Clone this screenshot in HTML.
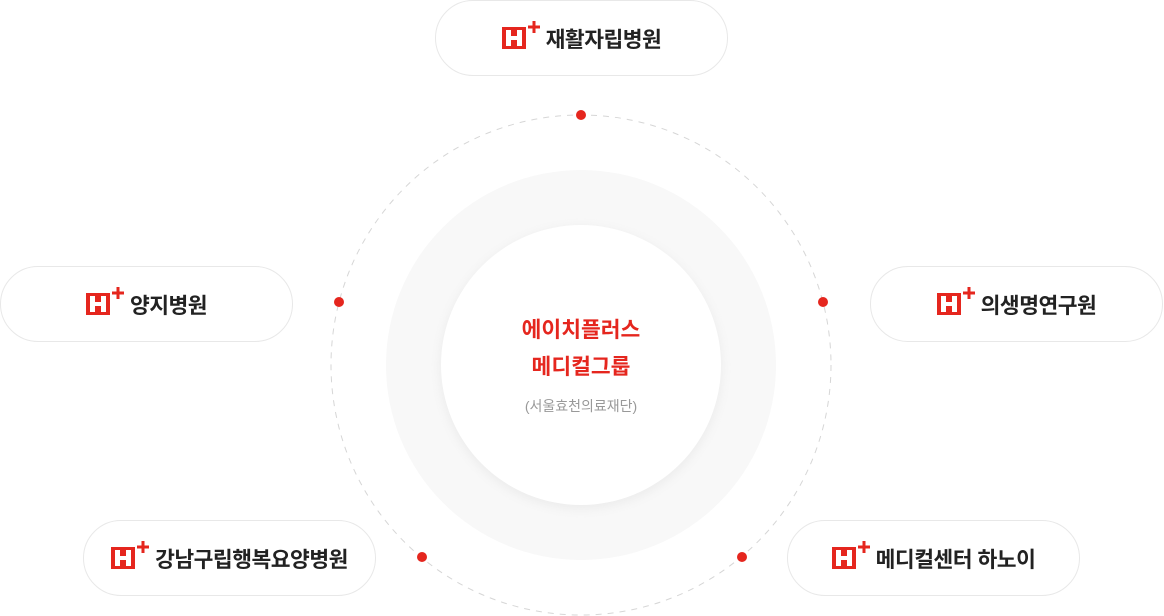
<!DOCTYPE html>
<html><head><meta charset="utf-8"><style>
body{margin:0;width:1164px;height:616px;position:relative;background:#fff;overflow:hidden;font-family:"Liberation Sans","Noto Sans CJK KR",sans-serif}
.pill{position:absolute;width:291px;height:74px;border:1px solid #e8e8e8;border-radius:38px;background:#fff;display:flex;align-items:center;justify-content:center;font-size:21.5px;font-weight:bold;color:#222;letter-spacing:-0.5px}
.pill svg{margin-right:4px;margin-top:-8px}
.dot{position:absolute;width:10px;height:10px;border-radius:50%;background:#e5261e;margin:-5px 0 0 -5px}
</style></head><body>
<svg width="1164" height="616" style="position:absolute;left:0;top:0">
<defs>
<filter id="s" x="-20%" y="-20%" width="140%" height="140%"><feGaussianBlur stdDeviation="5"/></filter></defs>
<circle cx="581" cy="365" r="250" fill="none" stroke="#d6d6d6" stroke-width="1" stroke-dasharray="6 6"/>
<circle cx="581" cy="365" r="195" fill="#f8f8f8"/>
<circle cx="581" cy="368" r="141" fill="#ececec" filter="url(#s)"/>
<circle cx="581" cy="365" r="140" fill="#fff"/>
<text x="581" y="337" text-anchor="middle" font-size="21.5" font-weight="bold" fill="#e5261e" font-family="Liberation Sans, Noto Sans CJK KR, sans-serif">에이치플러스</text>
<text x="581" y="374" text-anchor="middle" font-size="21.5" font-weight="bold" fill="#e5261e" font-family="Liberation Sans, Noto Sans CJK KR, sans-serif">메디컬그룹</text>
<text x="581" y="411" text-anchor="middle" font-size="14" fill="#999" font-family="Liberation Sans, Noto Sans CJK KR, sans-serif">(서울효천의료재단)</text>
</svg>
<div class="dot" style="left:581px;top:115px"></div>
<div class="dot" style="left:339px;top:302px"></div>
<div class="dot" style="left:823px;top:302px"></div>
<div class="dot" style="left:422px;top:557px"></div>
<div class="dot" style="left:742px;top:557px"></div>

<div class="pill" style="left:435px;top:0px"><svg width="40" height="30" viewBox="0 0 40 30"><rect x="0" y="8" width="24" height="22" fill="#e5261e"/><path d="M4 11h5v6h6v-6h5v16h-5v-6h-6v6h-5z" fill="#fff"/><path d="M30.5 2h3v4.5h4.5v3h-4.5v4.5h-3v-4.5h-4.5v-3h4.5z" fill="#e5261e"/></svg>재활자립병원</div>
<div class="pill" style="left:0px;top:266px"><svg width="40" height="30" viewBox="0 0 40 30"><rect x="0" y="8" width="24" height="22" fill="#e5261e"/><path d="M4 11h5v6h6v-6h5v16h-5v-6h-6v6h-5z" fill="#fff"/><path d="M30.5 2h3v4.5h4.5v3h-4.5v4.5h-3v-4.5h-4.5v-3h4.5z" fill="#e5261e"/></svg>양지병원</div>
<div class="pill" style="left:870px;top:266px"><svg width="40" height="30" viewBox="0 0 40 30"><rect x="0" y="8" width="24" height="22" fill="#e5261e"/><path d="M4 11h5v6h6v-6h5v16h-5v-6h-6v6h-5z" fill="#fff"/><path d="M30.5 2h3v4.5h4.5v3h-4.5v4.5h-3v-4.5h-4.5v-3h4.5z" fill="#e5261e"/></svg>의생명연구원</div>
<div class="pill" style="left:83px;top:520px"><svg width="40" height="30" viewBox="0 0 40 30"><rect x="0" y="8" width="24" height="22" fill="#e5261e"/><path d="M4 11h5v6h6v-6h5v16h-5v-6h-6v6h-5z" fill="#fff"/><path d="M30.5 2h3v4.5h4.5v3h-4.5v4.5h-3v-4.5h-4.5v-3h4.5z" fill="#e5261e"/></svg>강남구립행복요양병원</div>
<div class="pill" style="left:787px;top:520px"><svg width="40" height="30" viewBox="0 0 40 30"><rect x="0" y="8" width="24" height="22" fill="#e5261e"/><path d="M4 11h5v6h6v-6h5v16h-5v-6h-6v6h-5z" fill="#fff"/><path d="M30.5 2h3v4.5h4.5v3h-4.5v4.5h-3v-4.5h-4.5v-3h4.5z" fill="#e5261e"/></svg>메디컬센터 하노이</div>
</body></html>
